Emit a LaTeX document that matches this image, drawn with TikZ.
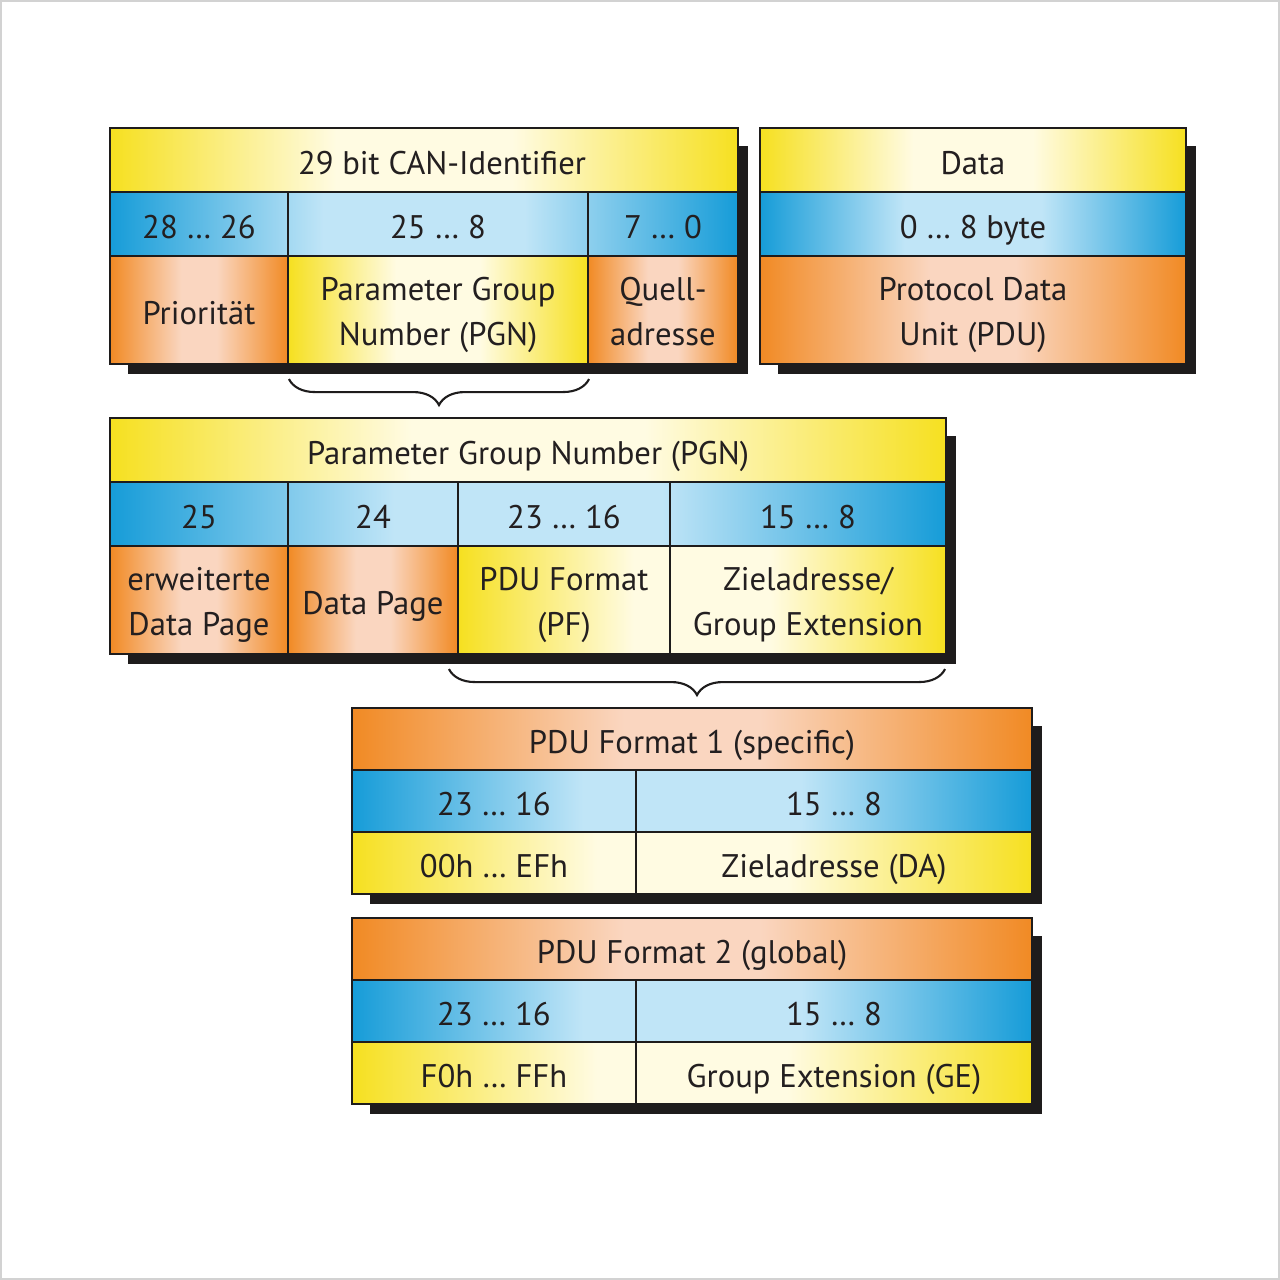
\documentclass[tikz,border=0pt]{standalone}
\usepackage{fontspec}
\setmainfont{PT Sans}
\usepackage{xcolor}
\usetikzlibrary{decorations.pathreplacing}
\definecolor{canBlueD}{RGB}{22, 156, 216}
\definecolor{canBlueL}{RGB}{192, 229, 247}
\definecolor{canYelD}{RGB}{246, 224, 32}
\definecolor{canYelL}{RGB}{255, 251, 226}
\definecolor{canOraD}{RGB}{241, 138, 36}
\definecolor{canOraL}{RGB}{250, 214, 192}
\definecolor{canLine}{RGB}{30, 28, 28}
\definecolor{canText}{RGB}{35, 31, 32}
\pgfdeclarehorizontalshading{blueband}{100bp}{color(0bp)=(canBlueD); color(25bp)=(canBlueD); color(42bp)=(canBlueL); color(58bp)=(canBlueL); color(75bp)=(canBlueD); color(100bp)=(canBlueD)}
\pgfdeclarehorizontalshading{yelband}{100bp}{color(0bp)=(canYelD); color(25bp)=(canYelD); color(43bp)=(canYelL); color(57bp)=(canYelL); color(75bp)=(canYelD); color(100bp)=(canYelD)}
\pgfdeclarehorizontalshading{oraband}{100bp}{color(0bp)=(canOraD); color(25bp)=(canOraD); color(45bp)=(canOraL); color(55bp)=(canOraL); color(75bp)=(canOraD); color(100bp)=(canOraD)}
\begin{document}
\begin{tikzpicture}[x=0.1mm, y=-0.1mm]
  \tikzset{cell/.style={draw=canLine, line width=0.6pt, inner sep=0pt, align=center, text=canText, font=\fontsize{9.3}{12.8}\selectfont, text height=3mm, text depth=0.2mm},
           twoline/.style={text height=7.2mm, text depth=0.2mm},
           yelcell/.style={cell, shade, shading=yelband},
           oracell/.style={cell, shade, shading=oraband},
           shadowbox/.style={fill=canLine},
           curly/.style={draw=canLine, line width=0.6pt, decorate, decoration={brace, mirror, amplitude=2.6mm}}}
  \useasboundingbox (0,0) rectangle (1280,1280);
  \draw[gray!35, fill=white] (1,1) rectangle (1279,1279);
  % shadows
  \fill[shadowbox] (128,146) rectangle (748,374);
  \fill[shadowbox] (778,146) rectangle (1196,374);
  \fill[shadowbox] (128,436) rectangle (956,664);
  \fill[shadowbox] (370,726) rectangle (1042,904);
  \fill[shadowbox] (370,936) rectangle (1042,1114);
  % row shadings
  \shade[shading=blueband] (110,192) rectangle (738,256);
  \shade[shading=blueband] (760,192) rectangle (1186,256);
  \shade[shading=blueband] (110,482) rectangle (946,546);
  \shade[shading=yelband] (458,546) rectangle (946,654);
  \shade[shading=blueband] (352,770) rectangle (1032,832);
  \shade[shading=yelband] (352,832) rectangle (1032,894);
  \shade[shading=blueband] (352,980) rectangle (1032,1042);
  \shade[shading=yelband] (352,1042) rectangle (1032,1104);
  % CAN identifier
  \node[yelcell, minimum width=62.8mm, minimum height=6.4mm] (canid) at (424,160) {\hspace*{3.6mm}29 bit CAN-Identifier};
  \node[cell, minimum width=17.8mm, minimum height=6.4mm] (bprio) at (199,224) {28 … 26};
  \node[cell, minimum width=30mm, minimum height=6.4mm] (bpgn) at (438,224) {25 … 8};
  \node[cell, minimum width=15mm, minimum height=6.4mm] (bsrc) at (663,224) {7 … 0};
  \node[oracell, minimum width=17.8mm, minimum height=10.8mm] (prio) at (199,310) {Priorität};
  \node[yelcell, twoline, minimum width=30mm, minimum height=10.8mm] (pgn) at (438,310) {Parameter Group\\Number (PGN)};
  \node[oracell, twoline, minimum width=15mm, minimum height=10.8mm] (src) at (663,310) {Quell-\\adresse};
  % data field
  \node[yelcell, minimum width=42.6mm, minimum height=6.4mm] (data) at (973,160) {Data};
  \node[cell, minimum width=42.6mm, minimum height=6.4mm] (bdata) at (973,224) {0 … 8 byte};
  \node[oracell, twoline, minimum width=42.6mm, minimum height=10.8mm] (pdu) at (973,310) {Protocol Data\\Unit (PDU)};
  % PGN
  \node[yelcell, minimum width=83.6mm, minimum height=6.4mm] (pgnhead) at (528,450) {Parameter Group Number (PGN)};
  \node[cell, minimum width=17.8mm, minimum height=6.4mm] (bedp) at (199,514) {25};
  \node[cell, minimum width=17mm, minimum height=6.4mm] (bdp) at (373,514) {24};
  \node[cell, minimum width=21.2mm, minimum height=6.4mm] (bpf) at (564,514) {23 … 16};
  \node[cell, minimum width=27.6mm, minimum height=6.4mm] (bps) at (808,514) {15 … 8};
  \node[oracell, twoline, minimum width=17.8mm, minimum height=10.8mm] (edp) at (199,600) {erweiterte\\Data Page};
  \node[oracell, minimum width=17mm, minimum height=10.8mm] (dp) at (373,600) {Data Page};
  \node[cell, twoline, minimum width=21.2mm, minimum height=10.8mm] (pf) at (564,600) {PDU Format\\(PF)};
  \node[cell, twoline, minimum width=27.6mm, minimum height=10.8mm] (ps) at (808,600) {Zieladresse/\\Group Extension};
  % PDU format 1
  \node[oracell, minimum width=68mm, minimum height=6.2mm] (fmta) at (692,739) {PDU Format 1 (specific)};
  \node[cell, minimum width=28.4mm, minimum height=6.2mm] (bfa) at (494,801) {23 … 16};
  \node[cell, minimum width=39.6mm, minimum height=6.2mm] (bda) at (834,801) {15 … 8};
  \node[cell, minimum width=28.4mm, minimum height=6.2mm] (rfa) at (494,863) {00h … EFh};
  \node[cell, minimum width=39.6mm, minimum height=6.2mm] (da) at (834,863) {Zieladresse (DA)};
  % PDU format 2
  \node[oracell, minimum width=68mm, minimum height=6.2mm] (fmtb) at (692,949) {PDU Format 2 (global)};
  \node[cell, minimum width=28.4mm, minimum height=6.2mm] (bfb) at (494,1011) {23 … 16};
  \node[cell, minimum width=39.6mm, minimum height=6.2mm] (bge) at (834,1011) {15 … 8};
  \node[cell, minimum width=28.4mm, minimum height=6.2mm] (rfb) at (494,1073) {F0h … FFh};
  \node[cell, minimum width=39.6mm, minimum height=6.2mm] (ge) at (834,1073) {Group Extension (GE)};
  % braces
  \draw[curly] ([xshift=0.2mm, yshift=-1.4mm]pgn.south west) -- ([yshift=-1.4mm]pgn.south east);
  \draw[curly] ([xshift=-0.8mm, yshift=-1.4mm]pf.south west) -- ([xshift=-0.2mm, yshift=-1.4mm]ps.south east);
\end{tikzpicture}
\end{document}
